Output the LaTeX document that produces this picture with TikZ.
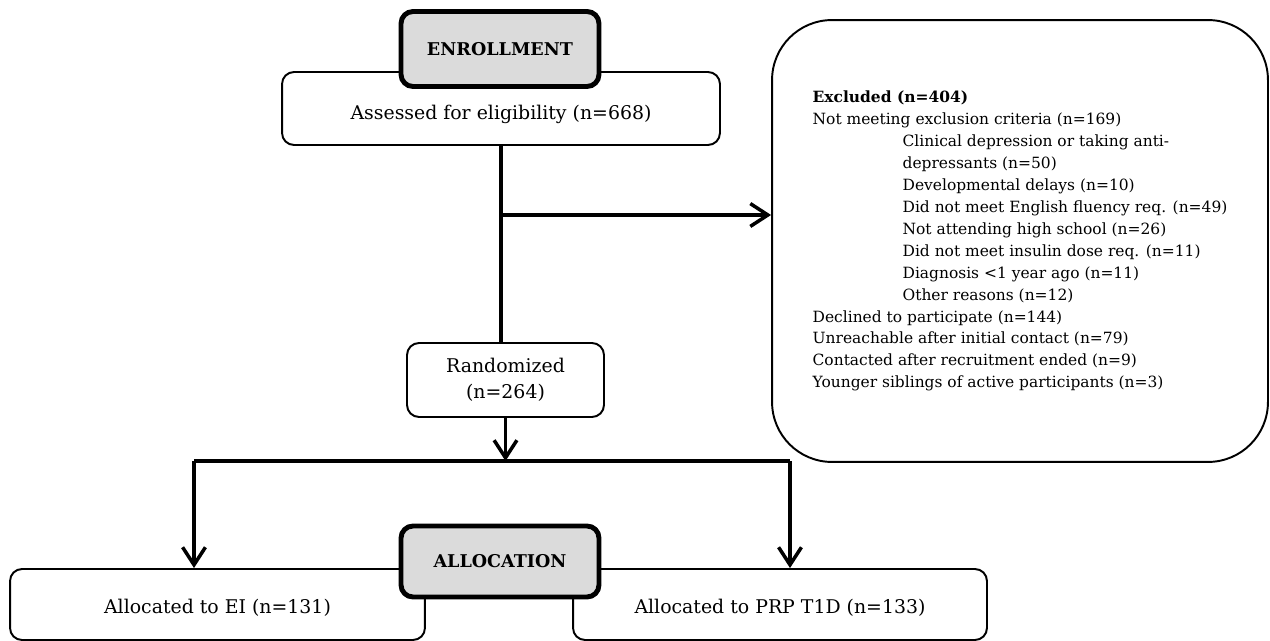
\documentclass[tikz,border=0pt]{standalone}
\usepackage{fontspec}
\setmainfont{DejaVu Serif}
\usetikzlibrary{arrows.meta}

\begin{document}
\begin{tikzpicture}[x=0.02cm, y=-0.02cm, line width=2pt,
flow/.style={-{Straight Barb[length=10pt,width=13pt]}},
box/.style={draw, line width=1.1pt, rounded corners=0.24cm, fill=white, font=\fontsize{10.75}{13}\selectfont},
head/.style={box, line width=2.8pt, fill=black!14, font=\fontsize{10}{12}\selectfont\bfseries}]

\useasboundingbox (0,0) rectangle (1270,641);

\node[box, minimum width=8.76cm, minimum height=1.46cm, text height=15pt, text depth=3pt] (assess) at (501,108.5) {Assessed for eligibility (n=668)};
\node[head, minimum width=3.96cm, minimum height=1.5cm] (enroll) at (500,49) {ENROLLMENT};
\node[box, minimum width=3.94cm, minimum height=1.48cm, align=center] (rand) at (505.5,380) {Randomized\\[1.5pt](n=264)};
\node[box, rounded corners=1.2cm, minimum width=9.92cm, minimum height=8.84cm, align=left, font=\fontsize{8.8}{12.5}\selectfont] (excl) at (1020,241) {%
\textbf{Excluded (n=404)}\\
Not meeting exclusion criteria (n=169)\\
\hspace*{1.8cm}Clinical depression or taking anti-\\
\hspace*{1.8cm}depressants (n=50)\\
\hspace*{1.8cm}Developmental delays (n=10)\\
\hspace*{1.8cm}Did not meet English fluency req. (n=49)\\
\hspace*{1.8cm}Not attending high school (n=26)\\
\hspace*{1.8cm}Did not meet insulin dose req. (n=11)\\
\hspace*{1.8cm}Diagnosis <1 year ago (n=11)\\
\hspace*{1.8cm}Other reasons (n=12)\\
Declined to participate (n=144)\\
Unreachable after initial contact (n=79)\\
Contacted after recruitment ended (n=9)\\
Younger siblings of active participants (n=3)};

\node[box, minimum width=8.3cm, minimum height=1.42cm, text height=13pt, text depth=3pt] (ei) at (217.5,604.5) {Allocated to EI (n=131)};
\node[box, minimum width=8.28cm, minimum height=1.42cm, text height=13pt, text depth=3pt] (prp) at (780,604.5) {Allocated to PRP T1D (n=133)};
\node[head, minimum width=3.96cm, minimum height=1.42cm] (alloc) at (500,561.5) {ALLOCATION};

\coordinate (split) at (501,215);
\coordinate (fork) at (505.5,461);
\coordinate (forkL) at (194,461);
\coordinate (forkR) at (790,461);

\draw (assess.south) -- (assess.south |- rand.north);
\draw[flow] (split) -- (split -| excl.west);
\draw[flow] (rand) -- (fork);
\draw (forkL) -- (forkR);
\draw[flow] (forkL) -- (forkL |- ei.north);
\draw[flow] (forkR) -- (forkR |- prp.north);

\end{tikzpicture}
\end{document}
